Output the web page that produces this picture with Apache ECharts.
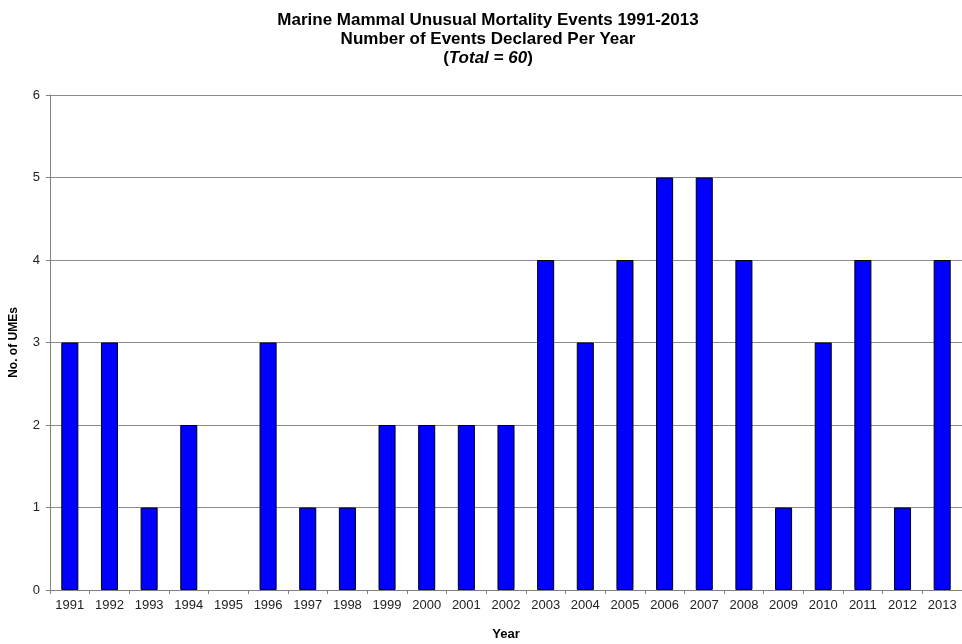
<!DOCTYPE html>
<html>
<head>
<meta charset="utf-8">
<script src="https://cdn.jsdelivr.net/npm/echarts@6/dist/echarts.min.js"></script>
<style>html,body{margin:0;padding:0;background:#fff;}#c{width:962px;height:644px;}</style>
</head>
<body>
<div id="c"></div>
<script>
var years = ['1991','1992','1993','1994','1995','1996','1997','1998','1999','2000','2001','2002','2003','2004','2005','2006','2007','2008','2009','2010','2011','2012','2013'];
var umes = [3,3,1,2,0,3,1,1,2,2,2,2,4,3,4,5,5,4,1,3,4,1,4];
var yTicks = [0,1,2,3,4,5,6];

var barData = umes.map(function (v) {
  return v === 0 ? {value: v, itemStyle: {borderWidth: 0}} : v;
});

var chart = echarts.init(document.getElementById('c'));
chart.setOption({
  animation: false,
  backgroundColor: '#fff',
  title: {
    text: '{b|Marine Mammal Unusual Mortality Events 1991-2013}\n{b|Number of Events Declared Per Year}\n{b|(}{i|Total = 60}{b|)}',
    left: 483,
    top: 6,
    textAlign: 'center',
    textStyle: {
      rich: {
        b: {fontFamily: 'Liberation Sans, Arial', fontWeight: 'bold', fontSize: 17, color: '#000', lineHeight: 19},
        i: {fontFamily: 'Liberation Sans, Arial', fontWeight: 'bold', fontStyle: 'italic', fontSize: 17, color: '#000', lineHeight: 19}
      }
    }
  },
  grid: {left: 50, right: 0, top: 95, bottom: 54, outerBoundsMode: 'none', containLabel: false},
  xAxis: {
    type: 'category',
    data: years,
    name: 'Year',
    nameLocation: 'middle',
    nameGap: 38,
    nameTextStyle: {fontFamily: 'Liberation Sans, Arial', fontWeight: 'bold', fontSize: 13, color: '#000'},
    axisLine: {lineStyle: {color: '#808080'}},
    axisTick: {show: true, length: 4, lineStyle: {color: '#808080'}},
    axisLabel: {fontFamily: 'Liberation Sans, Arial', fontSize: 13, color: '#222', margin: 9, interval: 0}
  },
  yAxis: {
    type: 'value',
    min: yTicks[0],
    max: yTicks[yTicks.length - 1],
    interval: 1,
    name: 'No. of UMEs',
    nameLocation: 'middle',
    nameGap: 30,
    nameTextStyle: {fontFamily: 'Liberation Sans, Arial', fontWeight: 'bold', fontSize: 12, color: '#000'},
    axisLine: {show: true, lineStyle: {color: '#808080'}},
    axisTick: {show: true, length: 4, lineStyle: {color: '#808080'}},
    axisLabel: {fontFamily: 'Liberation Sans, Arial', fontSize: 13, color: '#222', margin: 10},
    splitLine: {show: true, lineStyle: {color: '#8c8c8c', width: 1}}
  },
  series: [{
    type: 'bar',
    data: barData,
    barWidth: '43%',
    itemStyle: {color: '#0000ff', borderColor: '#000', borderWidth: 1}
  }]
});
</script>
</body>
</html>
